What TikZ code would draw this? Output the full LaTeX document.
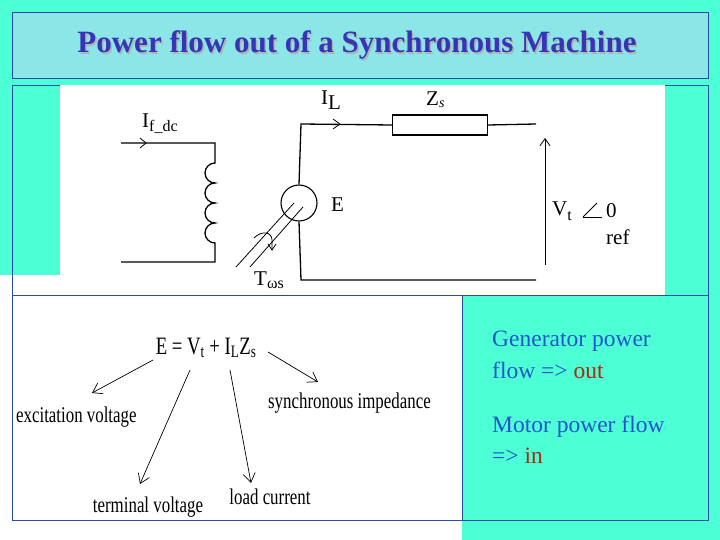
\documentclass[tikz,border=0pt]{standalone}
\usepackage{fontspec}
\setmainfont{Liberation Serif}
\usetikzlibrary{arrows.meta}
\definecolor{aqua}{HTML}{4DFFD5}
\definecolor{titlef}{HTML}{8CE6E8}
\definecolor{titlet}{HTML}{3535B5}
\definecolor{bord}{HTML}{2A4AA8}
\definecolor{bodyt}{HTML}{2255CC}
\definecolor{redt}{HTML}{A82A10}
\begin{document}
\begin{tikzpicture}[x=1pt,y=-1pt,
  wire/.style={line width=1.3pt},
  thin/.style={line width=0.8pt},
  lbl/.style={inner sep=0pt,font=\fontsize{21}{21}\selectfont},
  eqn/.style={inner sep=0pt,font=\fontsize{22.5}{22.5}\selectfont,xscale=0.75},
  pointer/.style={line width=0.7pt,-{Straight Barb[length=9pt,width=12pt]}},
  body/.style={inner sep=0pt,anchor=west,text=bodyt,font=\fontsize{23.5}{24}\selectfont}]
\useasboundingbox (0,0) rectangle (720,540);
\fill[white] (0,0) rectangle (720,540);
\fill[aqua] (0,0) rectangle (720,275);
\fill[aqua] (665,0) rectangle (720,295);
\fill[aqua] (462,295) rectangle (720,540);
% title
\draw[bord,fill=titlef] (12,12) rectangle (708,78);
\node (title)[text=titlet,font=\bfseries\fontsize{31}{31}\selectfont,
  preaction={}] at (357,46) {\rlap{\kern1.5pt\raisebox{-1.5pt}{\textcolor{black!30}{Power flow out of a Synchronous Machine}}}Power flow out of a Synchronous Machine};
% panels
\draw[bord] (12,85) rectangle (708,295);
\fill[white] (60,85) rectangle (665,295);
\draw[bord] (12,295) rectangle (462,520);
\draw[bord] (462,295) rectangle (708,520);
% circuit
\coordinate (fa) at (121,143); \coordinate (fb) at (215,143);
\coordinate (fc) at (215,262); \coordinate (fd) at (121,262);
\draw[wire] (fa) -- (fb) -- (215,163)
  arc[start angle=-90,end angle=-270,radius=10] arc[start angle=-90,end angle=-270,radius=10]
  arc[start angle=-90,end angle=-270,radius=10] arc[start angle=-90,end angle=-270,radius=10]
  -- (fc) -- (fd);
\draw[thin] (140,138) -- (146,143) -- (140,148);
\node (gen)[draw,line width=1.1pt,circle,minimum size=36pt,inner sep=0pt] at (299,203) {};
\coordinate (t1) at (301,124); \coordinate (t2) at (536,124);
\coordinate (b1) at (301,280); \coordinate (b2) at (536,280);
\node (zs)[draw,line width=1.1pt,minimum width=95pt,minimum height=20pt,inner sep=0pt] at (440,125) {};
\draw[wire] (gen.north) -- (t1) -- (zs.west);
\draw[wire] (zs.east) -- (t2);
\draw[wire] (gen.south) -- (b1) -- (b2);
\draw[thin] (333,119) -- (340,124) -- (333,129);
\coordinate (va) at (545,265); \coordinate (vb) at (545,138);
\draw[thin,-{Straight Barb[length=7pt,width=10pt]}] (va) -- (vb);
% shaft
\draw[thin] (236,267) -- (294,203);
\draw[thin] (250,267) -- (303,207);
\draw[thin] (254,238) .. controls (262,230) and (272,232) .. (272,240) -- (272,250);
\draw[thin] (268,244) -- (272,250) -- (276,244);
% labels
\node (lif)[lbl,anchor=west] at (142,124) {I\raisebox{-4pt}{\fontsize{16}{16}\selectfont f\_dc}};
\node (lil)[lbl,anchor=west] at (321,100) {I\raisebox{-5pt}{L}};
\node (lzs)[lbl,anchor=west] at (426,100) {Z\raisebox{-2pt}{\fontsize{14}{14}\selectfont\itshape s}};
\node (le)[lbl,anchor=west] at (331,205) {E};
\node (lvt)[lbl,anchor=west] at (552,211) {V\raisebox{-5pt}{\fontsize{16}{16}\selectfont t}};
\draw[thin] (583,217) -- (597,203); \draw[thin] (583,217) -- (602,217);
\node (l0)[lbl,anchor=west] at (606,211) {0};
\node (lref)[lbl,anchor=west] at (606,237) {ref};
\node (ltw)[lbl,anchor=west] at (254,280) {T\raisebox{-3pt}{\fontsize{16}{16}\selectfont ωs}};
% equation
\node (eq)[inner sep=0pt,font=\fontsize{25}{25}\selectfont,xscale=0.75] at (206,348) {E = V\textsubscript{t} + I\textsubscript{L}Z\textsubscript{s}};
\node (ex)[eqn,anchor=west] at (16,417) {excitation voltage};
\node (tv)[eqn] at (148,507) {terminal voltage};
\node (lc)[eqn] at (270,497) {load current};
\node (si)[eqn,anchor=west] at (268,403) {synchronous impedance};
\coordinate (p1) at (153,360); \coordinate (p2) at (190,370);
\coordinate (p3) at (230,370); \coordinate (p4) at (268,352);
\draw[pointer] (p1) -- (92,393);
\draw[pointer] (p2) -- (140,484);
\draw[pointer] (p3) -- (251,483);
\draw[pointer] (p4) -- (318,382);
% right text
\node (g1)[body] at (492,341) {Generator power};
\node (g2)[body] at (492,370) {flow => \textcolor{redt}{out}};
\node (m1)[body] at (492,427) {Motor power flow};
\node (m2)[body] at (492,456) {=> \textcolor{redt}{in}};
\end{tikzpicture}
\end{document}
